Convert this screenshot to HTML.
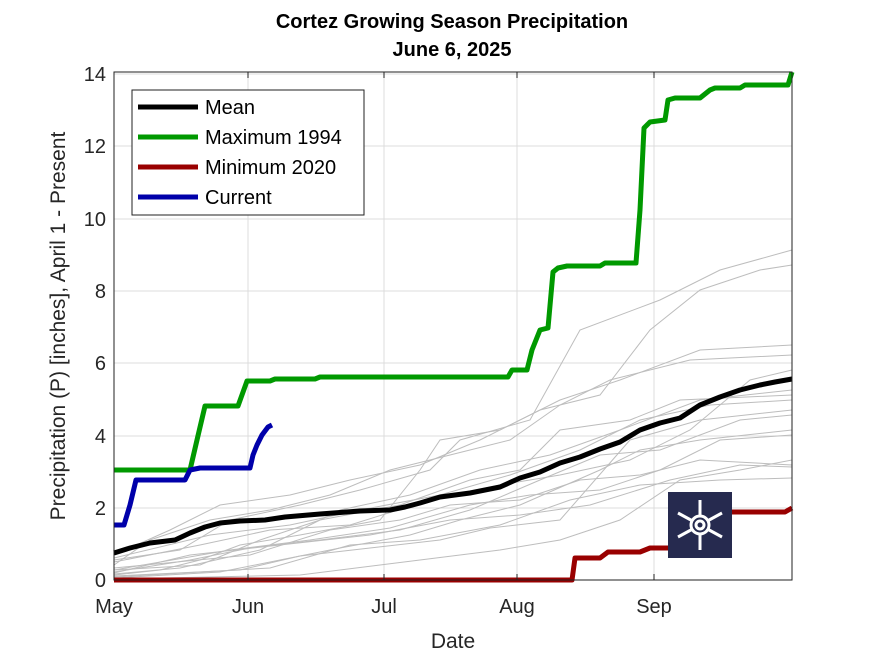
<!DOCTYPE html>
<html><head><style>body{margin:0;background:#fff}svg{display:block;font-family:"Liberation Sans",sans-serif}</style></head>
<body>
<svg width="875" height="656" viewBox="0 0 875 656" xmlns="http://www.w3.org/2000/svg">
<rect width="875" height="656" fill="#fff"/>
<text x="452" y="28" font-size="20" font-weight="bold" text-anchor="middle">Cortez Growing Season Precipitation</text>
<text x="452" y="56" font-size="20" font-weight="bold" text-anchor="middle">June 6, 2025</text>
<g stroke="#dcdcdc" stroke-width="1">
<line x1="248" y1="72" x2="248" y2="580"/><line x1="384" y1="72" x2="384" y2="580"/><line x1="517" y1="72" x2="517" y2="580"/><line x1="654" y1="72" x2="654" y2="580"/>
<line x1="114" y1="508" x2="792" y2="508"/><line x1="114" y1="436" x2="792" y2="436"/><line x1="114" y1="363" x2="792" y2="363"/><line x1="114" y1="291" x2="792" y2="291"/><line x1="114" y1="219" x2="792" y2="219"/><line x1="114" y1="146" x2="792" y2="146"/><line x1="114" y1="74" x2="792" y2="74"/>
</g>
<g fill="none" stroke="#bdbdbd" stroke-width="1">
<polyline points="114,575 160,570 200,560 240,545 300,535 380,520 420,470 440,440 500,430 560,400 620,380 700,350 792,345"/>
<polyline points="114,560 180,550 230,520 300,505 360,490 430,470 460,440 530,420 580,330 660,300 720,270 792,250"/>
<polyline points="114,570 200,565 260,540 320,520 400,505 470,480 520,470 560,430 630,420 680,400 792,395"/>
<polyline points="114,578 220,572 280,560 340,548 410,535 460,520 520,505 600,470 640,450 700,440 792,430"/>
<polyline points="114,565 150,540 210,520 270,510 330,495 390,470 450,455 510,440 560,405 610,380 690,360 792,355"/>
<polyline points="114,572 190,560 250,548 320,540 400,530 470,510 540,480 600,455 660,450 740,420 792,415"/>
<polyline points="114,576 240,570 300,556 370,548 440,540 490,528 560,520 630,440 700,420 792,410"/>
<polyline points="114,555 170,530 220,505 290,495 350,480 420,465 480,440 540,410 600,395 650,330 700,290 760,270 792,265"/>
<polyline points="114,568 250,555 330,530 400,520 450,505 520,500 580,480 640,475 700,460 792,465"/>
<polyline points="114,579 300,575 420,560 500,550 560,540 620,520 680,480 740,470 792,460"/>
<polyline points="114,562 200,545 270,530 350,525 430,500 500,485 560,475 630,460 690,430 750,380 792,370"/>
<polyline points="114,574 180,568 260,550 340,510 410,495 480,470 550,455 620,430 700,400 792,390"/>
<polyline points="114,570 230,550 310,540 390,528 470,505 530,495 600,490 660,470 720,440 792,435"/>
<polyline points="114,577 270,568 350,545 420,540 500,525 570,500 640,485 720,480 792,478"/>
<polyline points="114,558 210,535 290,525 360,510 440,495 510,475 580,450 640,420 710,405 792,400"/>
<polyline points="114,573 190,555 280,545 370,535 450,520 520,515 590,505 670,480 740,465 792,467"/>
</g>
<polyline fill="none" stroke="#009900" stroke-width="5" stroke-linejoin="round" points="114,470 190,470 197,440 205,406 238,406 247,381 270,381 275,379 315,379 320,377 508,377 512,370 527,370 532,350 540,330 548,328 553,272 558,268 567,266 600,266 605,263 636,263 640,210 644,128 650,122 665,120 668,100 675,98 700,98 710,90 715,88 740,88 745,85 788,85 792,72"/>
<polyline fill="none" stroke="#990000" stroke-width="5" stroke-linejoin="round" points="114,580 572,580 575,558 600,558 608,552 640,552 650,548 700,548 710,512 785,512 792,508"/>
<polyline fill="none" stroke="#000" stroke-width="5" stroke-linejoin="round" points="114,553 130,548 150,543 175,540 190,533 205,527 220,523 240,521 265,520 285,517 320,514 360,511 390,510 405,507 420,503 440,497 470,493 500,487 520,478 540,472 560,463 580,457 600,449 620,442 640,430 660,423 680,418 700,405 720,397 740,390 760,385 775,382 792,379"/>
<polyline fill="none" stroke="#0000aa" stroke-width="5" stroke-linejoin="round" points="114,525 124,525 130,505 136,480 185,480 190,470 200,468 250,468 253,455 257,445 262,435 268,427 272,425"/>
<rect x="668" y="492" width="64" height="66" fill="#262a4f"/>
<g stroke="#fff" stroke-width="3" fill="none" transform="translate(700,525)">
<line x1="0" y1="-25" x2="0" y2="25"/><line x1="-22" y1="-12" x2="22" y2="12"/><line x1="-22" y1="12" x2="22" y2="-12"/>
<circle r="9" fill="#262a4f"/><circle r="4"/>
</g>
<rect x="114" y="72" width="678" height="508" fill="none" stroke="#222" stroke-width="1"/>
<g stroke="#222"><line x1="248" y1="580" x2="248" y2="574"/><line x1="384" y1="580" x2="384" y2="574"/><line x1="517" y1="580" x2="517" y2="574"/><line x1="654" y1="580" x2="654" y2="574"/>
<line x1="248" y1="72" x2="248" y2="78"/><line x1="384" y1="72" x2="384" y2="78"/><line x1="517" y1="72" x2="517" y2="78"/><line x1="654" y1="72" x2="654" y2="78"/></g>
<g font-size="20" fill="#262626" text-anchor="end">
<text x="106" y="587">0</text><text x="106" y="515">2</text><text x="106" y="443">4</text><text x="106" y="370">6</text><text x="106" y="298">8</text><text x="106" y="226">10</text><text x="106" y="153">12</text><text x="106" y="81">14</text>
</g>
<g font-size="20" fill="#262626" text-anchor="middle">
<text x="114" y="613">May</text><text x="248" y="613">Jun</text><text x="384" y="613">Jul</text><text x="517" y="613">Aug</text><text x="654" y="613">Sep</text>
<text x="453" y="648" font-size="21">Date</text>
<text transform="translate(65,326) rotate(-90)" font-size="21">Precipitation (P) [inches], April 1 - Present</text>
</g>
<rect x="132" y="90" width="232" height="125" fill="#fff" stroke="#222"/>
<g stroke-width="5"><line x1="138" y1="107" x2="198" y2="107" stroke="#000"/><line x1="138" y1="137" x2="198" y2="137" stroke="#009900"/><line x1="138" y1="167" x2="198" y2="167" stroke="#990000"/><line x1="138" y1="197" x2="198" y2="197" stroke="#0000aa"/></g>
<g font-size="20"><text x="205" y="114">Mean</text><text x="205" y="144">Maximum 1994</text><text x="205" y="174">Minimum 2020</text><text x="205" y="204">Current</text></g>
</svg>
</body></html>
